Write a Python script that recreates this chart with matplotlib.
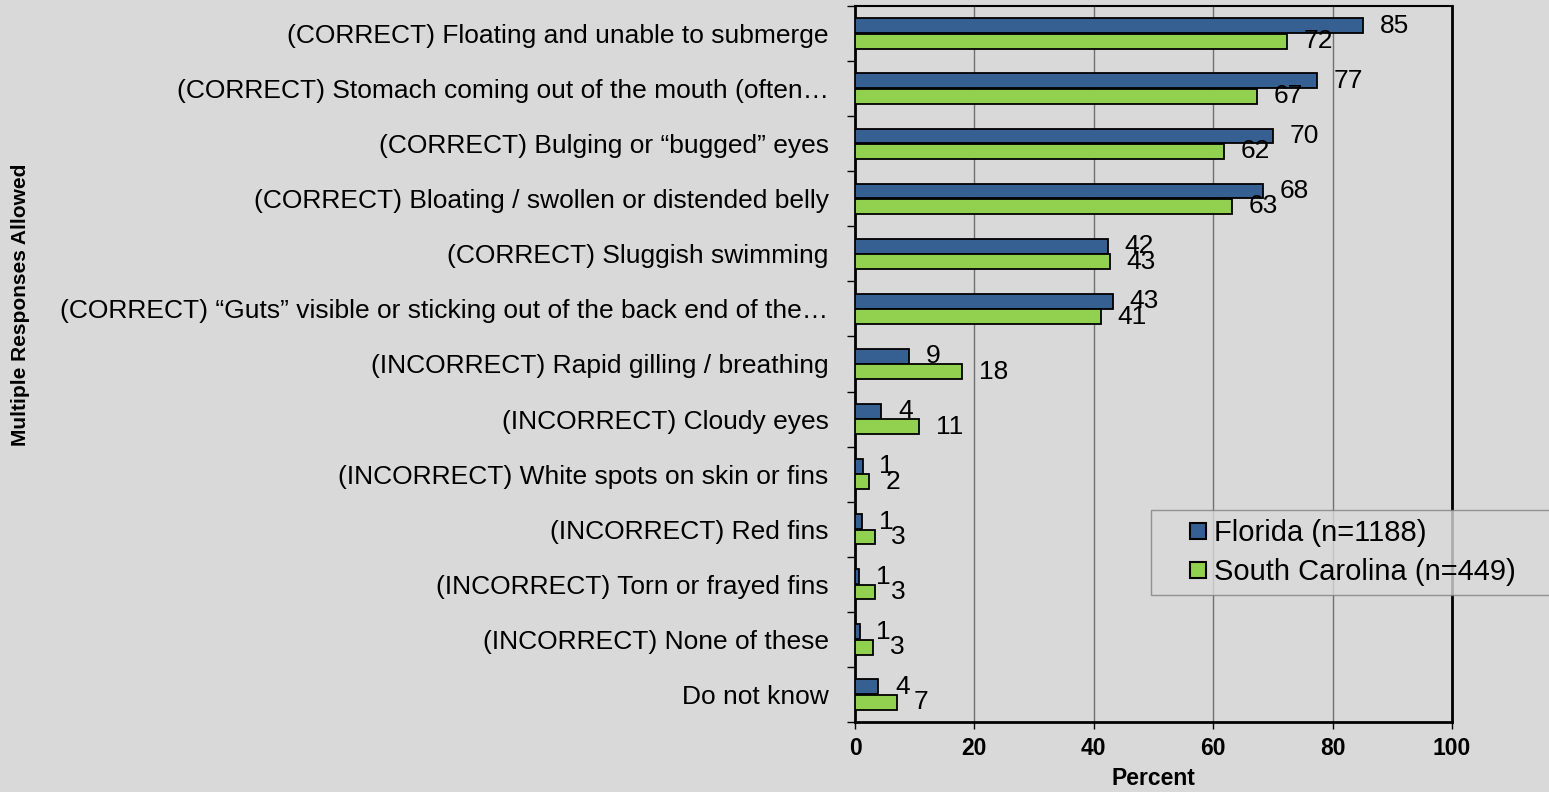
import numpy as np
import matplotlib
matplotlib.use("Agg")
import matplotlib.pyplot as plt
from matplotlib.lines import Line2D

plt.rcParams['font.family'] = ['Liberation Sans', 'DejaVu Sans']

# data
categories = [
    "(CORRECT) Floating and unable to submerge",
    "(CORRECT) Stomach coming out of the mouth (often\u2026",
    "(CORRECT) Bulging or \u201cbugged\u201d eyes",
    "(CORRECT) Bloating / swollen or distended belly",
    "(CORRECT) Sluggish swimming",
    "(CORRECT) \u201cGuts\u201d visible or sticking out of the back end of the\u2026",
    "(INCORRECT) Rapid gilling / breathing",
    "(INCORRECT) Cloudy eyes",
    "(INCORRECT) White spots on skin or fins",
    "(INCORRECT) Red fins",
    "(INCORRECT) Torn or frayed fins",
    "(INCORRECT) None of these",
    "Do not know",
]
florida = [85.1, 77.4, 70.0, 68.4, 42.4, 43.2, 9.0, 4.4, 1.3, 1.2, 0.7, 0.8, 3.9]
south_carolina = [72.4, 67.3, 61.8, 63.1, 42.7, 41.2, 17.9, 10.8, 2.4, 3.3, 3.3, 3.0, 7.0]
series_names = ["Florida (n=1188)", "South Carolina (n=449)"]
x_ticks = [0, 20, 40, 60, 80, 100]

colorBG = "#d9d9d9"
colorFL = "#376092"
colorSC = "#92d050"

fig = plt.figure(figsize=(15.49, 7.92), dpi=100, facecolor=colorBG)
ax = fig.add_axes([855 / 1549, 1 - 722 / 792, 597 / 1549, 716 / 792])
ax.set_facecolor(colorBG)

y = np.arange(len(categories))
off = 0.14
h = 0.27
barsFL = ax.barh(y - off, florida, height=h, color=colorFL, edgecolor="black", linewidth=1.3, zorder=3)
barsSC = ax.barh(y + off, south_carolina, height=h, color=colorSC, edgecolor="black", linewidth=1.3, zorder=3)

# value labels just past the end of each bar
for bars, vals in [(barsFL, florida), (barsSC, south_carolina)]:
    for b, v in zip(bars, vals):
        ax.annotate(f"{v:.0f}", xy=(v, b.get_y() + b.get_height() / 2),
                    xytext=(12, 0), textcoords="offset points",
                    ha="left", va="center", fontsize=19, color="black", zorder=4)

ax.set_xlim(0, 100)
ax.set_ylim(len(categories) - 0.5, -0.5)

ax.set_xticks(x_ticks)
ax.set_xticklabels([str(t) for t in x_ticks], fontsize=16.5, fontweight="bold")
ax.tick_params(axis="x", direction="out", length=5, width=1, pad=6, color="black")
ax.grid(axis="x", color="#707070", linewidth=1, zorder=0)

# category ticks at the band edges, labels at the band centres
ax.set_yticks(np.arange(-0.5, len(categories)), minor=False)
ax.set_yticklabels([])
ax.set_yticks(y, minor=True)
ax.set_yticklabels(categories, minor=True, fontsize=19)
ax.tick_params(axis="y", which="major", direction="out", length=5.5, width=1, color="black")
ax.tick_params(axis="y", which="minor", length=0, pad=19)

for side in ["left", "bottom", "right"]:
    ax.spines[side].set_linewidth(2)
    ax.spines[side].set_color("black")
ax.spines["top"].set_linewidth(1.5)

ax.set_xlabel("Percent", fontsize=16.5, fontweight="bold", labelpad=5)
fig.text(21 / 1549, 1 - 305 / 792, "Multiple Responses Allowed", rotation=90,
         fontsize=15, fontweight="bold", ha="center", va="center")

handles = [
    Line2D([], [], linestyle="none", marker="s", markersize=11, markerfacecolor=colorFL,
           markeredgecolor="black", markeredgewidth=1.5),
    Line2D([], [], linestyle="none", marker="s", markersize=11, markerfacecolor=colorSC,
           markeredgecolor="black", markeredgewidth=1.5),
]
leg = fig.legend(handles, series_names, loc="upper left",
                 bbox_to_anchor=(1151 / 1549, 1 - 603 / 792, 0.35, 93 / 792),
                 mode="expand", fontsize=21, frameon=True, fancybox=False,
                 borderpad=0.3, labelspacing=0.4, handlelength=2.6, handletextpad=-0.75,
                 borderaxespad=0)
leg.get_frame().set_facecolor(colorBG)
leg.get_frame().set_edgecolor("#7f7f7f")
leg.get_frame().set_linewidth(1)

fig.savefig("out.png", dpi=100, facecolor=colorBG)
